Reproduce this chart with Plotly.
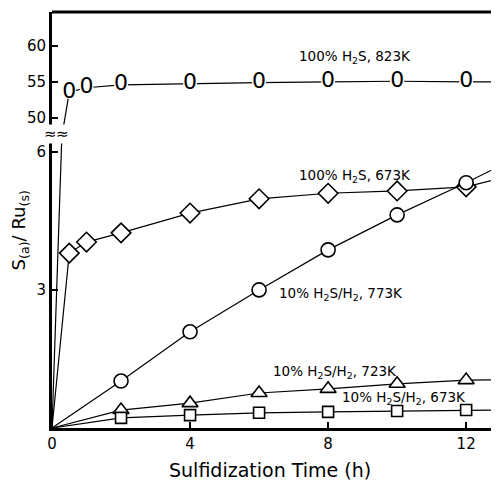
import plotly.graph_objects as go

# ---- data ----
t_823 = [0.5, 1, 2, 4, 6, 8, 10, 12, 13]
s_823 = [53.6, 54.2, 54.6, 54.8, 54.9, 55.0, 55.1, 55.0, 55.0]
rise_t_low = [0, 0.29]
rise_s_low = [0, 6.45]
rise_t_up = [0.29, 0.5]
rise_s_up = [47.6, 53.6]

t_673 = [0, 0.5, 1, 2, 4, 6, 8, 10, 12, 13]
s_673 = [0, 3.80, 4.04, 4.24, 4.67, 4.98, 5.10, 5.15, 5.24, 5.43]

t_773 = [0, 2, 4, 6, 8, 10, 12, 13]
s_773 = [0, 1.02, 2.09, 3.0, 3.87, 4.63, 5.33, 5.7]

t_723 = [0, 2, 4, 6, 8, 10, 12, 13]
s_723 = [0, 0.39, 0.54, 0.76, 0.85, 0.96, 1.04, 1.05]

t_673b = [0, 2, 4, 6, 8, 10, 12, 13]
s_673b = [0, 0.22, 0.28, 0.33, 0.35, 0.37, 0.39, 0.39]

x_ticks = [0, 4, 8, 12]
y_low_ticks = [0, 3, 6]
y_low_labels = ["", "3", "6"]
y_up_ticks = [50, 55, 60]

labels = [
    ("100% H<sub>2</sub>S, 823K", 8.78, 58.5, "y2"),
    ("100% H<sub>2</sub>S, 673K", 8.78, 5.48, "y"),
    ("10% H<sub>2</sub>S/H<sub>2</sub>, 773K", 8.38, 2.91, "y"),
    ("10% H<sub>2</sub>S/H<sub>2</sub>, 723K", 8.2, 1.22, "y"),
    ("10% H<sub>2</sub>S/H<sub>2</sub>, 673K", 10.2, 0.65, "y"),
]

FONT = "DejaVu Sans"
line = dict(color="black", width=1.2)

def mk(symbol, size):
    return dict(symbol=symbol, size=size, color="white",
                line=dict(color="black", width=1.6))

fig = go.Figure()
# rising segments of 823K curve across the axis break
fig.add_trace(go.Scatter(x=rise_t_low, y=rise_s_low, mode="lines", line=line,
                         xaxis="x", yaxis="y", hoverinfo="skip"))
fig.add_trace(go.Scatter(x=rise_t_up, y=rise_s_up, mode="lines", line=line,
                         xaxis="x", yaxis="y2", hoverinfo="skip"))
# 823K series (drawn as "0")
fig.add_trace(go.Scatter(x=t_823, y=s_823, mode="lines",
                         line=line, xaxis="x", yaxis="y2"))
fig.add_trace(go.Scatter(x=t_823[:-1], y=s_823[:-1], mode="markers+text",
                         marker=dict(symbol="circle", size=14, color="white"),
                         text=["0"] * (len(t_823) - 1), textposition="middle center",
                         textfont=dict(family=FONT, size=22, color="black"),
                         xaxis="x", yaxis="y2"))
fig.add_trace(go.Scatter(x=t_673, y=s_673, mode="lines", line=line))
fig.add_trace(go.Scatter(x=t_673[1:-1], y=s_673[1:-1], mode="markers",
                         marker=mk("diamond", 15)))
fig.add_trace(go.Scatter(x=t_773, y=s_773, mode="lines", line=line))
fig.add_trace(go.Scatter(x=t_773[1:-1], y=s_773[1:-1], mode="markers",
                         marker=mk("circle", 14)))
fig.add_trace(go.Scatter(x=t_723, y=s_723, mode="lines", line=line))
fig.add_trace(go.Scatter(x=t_723[1:-1], y=s_723[1:-1], mode="markers",
                         marker=mk("triangle-up", 14)))
fig.add_trace(go.Scatter(x=t_673b, y=s_673b, mode="lines", line=line))
fig.add_trace(go.Scatter(x=t_673b[1:-1], y=s_673b[1:-1], mode="markers",
                         marker=mk("square", 11)))

BREAK = 0.707
ann = []
for txt, x, y, yr in labels:
    ann.append(dict(text=txt, x=x, y=y, xref="x", yref=yr, showarrow=False,
                    font=dict(family=FONT, size=13.5, color="black")))
# axis break marks
for xb in [-0.004, 0.024]:
    ann.append(dict(text="≈", x=xb, y=BREAK, xref="paper", yref="paper", showarrow=False,
                    xanchor="center", yanchor="middle",
                    font=dict(family=FONT, size=15, color="black"),
                    bgcolor="white", borderpad=0))
ann.append(dict(text="S<sub>(a)</sub>/ Ru<sub>(s)</sub>", x=-0.072, y=0.476,
                xref="paper", yref="paper", textangle=-90, showarrow=False,
                xanchor="center", yanchor="middle",
                font=dict(family=FONT, size=18, color="black")))
ann.append(dict(text="Sulfidization Time (h)", x=0.497, y=-0.10,
                xref="paper", yref="paper", showarrow=False,
                xanchor="center", yanchor="middle",
                font=dict(family=FONT, size=19, color="black")))

axis_common = dict(showgrid=False, zeroline=False, showline=True, linecolor="black",
                   linewidth=3, ticks="inside", ticklen=6, tickwidth=1.5,
                   tickcolor="black",
                   tickfont=dict(family=FONT, size=15, color="black"))

# the page has an 8px body margin, so the figure is offset by 8px
fig.update_layout(
    width=483, height=473,
    margin=dict(l=44, r=0, t=4, b=53),
    paper_bgcolor="white", plot_bgcolor="white",
    showlegend=False,
    xaxis=dict(range=[0, 12.72], tickvals=x_ticks, anchor="y", **axis_common),
    yaxis=dict(domain=[0, BREAK], range=[0, 6.39], tickvals=y_low_ticks,
               ticktext=y_low_labels, anchor="x", **axis_common),
    yaxis2=dict(domain=[BREAK, 1], range=[47.8, 64.7], tickvals=y_up_ticks,
                anchor="x", **axis_common),
    annotations=ann,
    shapes=[dict(type="line", xref="paper", yref="paper", x0=0, x1=1, y0=1, y1=1,
                 line=dict(color="black", width=3))],
)

fig.write_html("out.html")
